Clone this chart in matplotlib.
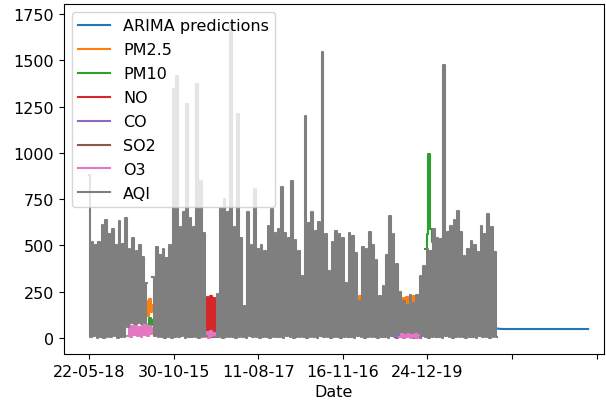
import numpy as np
import matplotlib
matplotlib.use("Agg")
import matplotlib.pyplot as plt

plt.rcParams['font.family'] = ['DejaVu Sans']
plt.rcParams['font.size'] = 11.5

nan = np.nan

# AQI series (alternating high / low readings)
aqi = [
    880, 5, 520, 10, 500, 3, 520, 8, 610, 2, 640, 6, 560, 4, 590, 9,
    500, 3, 630, 7, 510, 5, 650, 60, 480, 80, 540, 78, 470, 82, 500, 76,
    440, 80, 300, nan, nan, nan, 330, 10, 490, 4, 450, 8, 480, 3, 430, 6,
    500, 2, 1345, 7, 1415, 5, 600, 9, 680, 3, 1264, 6, 650, 4, 600, 8,
    1372, 2, 848, 5, 570, 10, nan, nan, nan, nan, nan, 8, 240, 5, 700, 3,
    750, 7, 680, 4, 1690, 6, 600, 2, 1210, 8, 540, 5, 173, 3, 680, 9,
    500, 4, 805, 6, 480, 2, 500, 7, 470, 5, 605, 3, 697, 8, 570, 4,
    590, 6, 815, 2, 570, 9, 540, 5, 848, 3, 530, 7, 470, 4, 335, 6,
    1200, 2, 620, 8, 680, 5, 580, 3, 626, 9, 1544, 4, 560, 6, 360, 2,
    520, 7, 578, 5, 560, 3, 540, 8, 300, 4, 570, 6, 550, 2, 460, 9,
    200, 5, 490, 3, 480, 7, 572, 4, 500, 6, 420, 2, 227, 8, 280, 5,
    450, 3, 660, 9, 560, 4, 400, 30, 250, 32, 200, 28, 180, 35, 230, 30,
    190, 33, 230, 29, 335, 10, 390, 5, 480, 3, 470, 8, 589, 4, 540, 6,
    535, 2, 1474, 9, 572, 5, 605, 3, 640, 7, 686, 4, 572, 6, 443, 2,
    480, 8, 524, 5, 500, 3, 464, 9, 605, 4, 560, 6, 670, 2, 600, 7,
    464, 5,
]

# Other pollutants: only the stretches that show through the AQI trace
pm25_segments = {
    33: [100, 200, 120, 210, 140, 180],
    69: [150, 215, 160, 220, 150, 210, 170, 200],
    155: [190, 225, 185, 220, 195, 225, 190, 215, 200],
    183: [170, 225, 165, 215, 175, 220, 170, 210, 180, 225, 170, 205, 185],
}
pm10_segments = {
    35: [60, 110, 70, 100],
    199: [480, 560, 993, 590, 520],
}
no_segments = {
    69: [10, 220, 15, 225, 5, 215, 20, 210],
}
co_segments = {
    182: [0, 20, 5, 25, 0, 30, 10, 20, 5, 25, 0, 20, 5, 15, 0],
}
so2_segments = {
    70: [5, 40, 10, 30, 5, 35],
}
o3_segments = {
    23: [10, 70, 5, 65, 15, 75, 10, 60, 5, 70, 15, 75, 10, 65, 20, 55],
    69: [5, 35, 0, 40, 10, 30, 5, 25],
    184: [5, 25, 0, 20, 5, 30, 0, 22, 5, 28, 0, 18],
}

arima = [
    52.0, 50.5, 49.8, 49.4, 49.2, 49.1, 49.0, 49.0, 49.0, 49.0, 49.0,
    49.0, 49.0, 49.0, 49.0, 49.0, 49.0, 49.0, 49.0, 49.0, 49.0, 49.0,
    49.0, 49.0, 49.0, 49.0, 49.0, 49.0, 49.0, 49.0, 49.0, 49.0, 49.0,
    49.0, 49.0, 49.0, 49.0, 49.0, 49.0, 49.0, 49.0, 49.0, 49.0, 49.0,
    49.0, 49.0, 49.0, 49.0, 49.0, 49.0, 49.0, 49.0, 49.0, 49.0, 49.0,
]

tick_positions = [0, 50, 100, 150, 200, 250, 300]
tick_labels = ['22-05-18', '30-10-15', '11-08-17', '16-11-16', '24-12-19', '', '']
y_ticks = [0, 250, 500, 750, 1000, 1250, 1500, 1750]

n = len(aqi)
idx = np.arange(n)


def build(segments):
    arr = np.full(n, np.nan)
    for start, vals in segments.items():
        arr[start:start + len(vals)] = vals
    return arr


fig = plt.figure(figsize=(6.06, 4.06), dpi=100)
ax = fig.add_axes([0.1056, 0.1256, 0.8911, 0.8621])

ax.plot(np.arange(n - 1, n - 1 + len(arima)), arima, label='ARIMA predictions')
ax.plot(idx, build(pm25_segments), label='PM2.5', drawstyle='steps-mid')
ax.plot(idx, build(pm10_segments), label='PM10', drawstyle='steps-mid')
ax.plot(idx, build(no_segments), label='NO', drawstyle='steps-mid')
ax.plot(idx, build(co_segments), label='CO', drawstyle='steps-mid')
ax.plot(idx, build(so2_segments), label='SO2', drawstyle='steps-mid')
ax.plot(idx, build(o3_segments), label='O3', drawstyle='steps-mid')
ax.plot(idx, np.array(aqi, dtype=float), label='AQI', drawstyle='steps-mid')

ax.set_xlim(-14.8, 304.4)
ax.set_ylim(-86, 1804)
ax.set_xticks(tick_positions)
ax.set_xticklabels(tick_labels)
ax.set_yticks(y_ticks)
ax.set_xlabel('Date')
ax.legend(loc='upper left', labelspacing=0.56)

fig.savefig('out.png', dpi=100)
